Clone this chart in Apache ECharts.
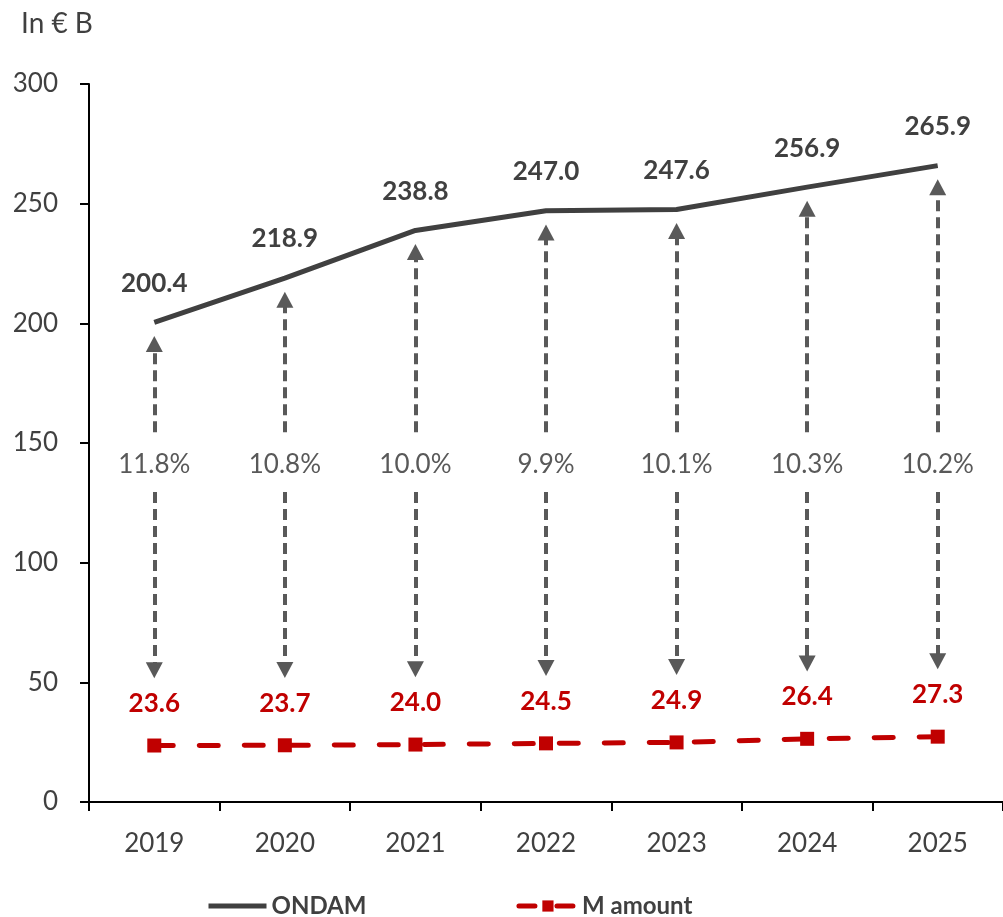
<!DOCTYPE html>
<html>
<head>
<meta charset="utf-8">
<script src="https://cdn.jsdelivr.net/npm/echarts@6/dist/echarts.min.js"></script>
<style>
  html, body { margin: 0; padding: 0; background: #fff; }
  #chart { width: 1003px; height: 917px; }
</style>
</head>
<body>
<div id="chart"></div>
<script>
// Yearly figures, in billions of euros
const years = ['2019', '2020', '2021', '2022', '2023', '2024', '2025'];
const ondam = [200.4, 218.9, 238.8, 247.0, 247.6, 256.9, 265.9];
const mAmount = [23.6, 23.7, 24.0, 24.5, 24.9, 26.4, 27.3];
// Share of M amount in ONDAM, as published (%)
const sharePct = [11.8, 10.8, 10.0, 9.9, 10.1, 10.3, 10.2];
const yTicks = [0, 50, 100, 150, 200, 250, 300];

const FONT = 'Lato, "Open Sans", sans-serif';
const DARK = '#404040';
const RED = '#C00000';
const ARROW = '#595959';

// Geometry of the double arrows (in axis units)
const pctLabelLevel = 141;    // where the percentage sits
const gapAbove = 13.5;        // gap left open above the label
const gapBelow = 11.5;        // gap left open below the label
const topClearance = 9;       // arrow head end below the ONDAM line
const bottomClearance = 31.5; // arrow head end above the M amount

const arrowSegments = [];
years.forEach((y, i) => {
  arrowSegments.push([
    { coord: [y, pctLabelLevel + gapAbove], symbol: 'none' },
    { coord: [y, ondam[i] - topClearance], symbol: 'triangle' }
  ]);
  arrowSegments.push([
    { coord: [y, pctLabelLevel - gapBelow], symbol: 'none' },
    { coord: [y, mAmount[i] + bottomClearance], symbol: 'triangle' }
  ]);
});

const chart = echarts.init(document.getElementById('chart'), null, { renderer: 'canvas' });

chart.setOption({
  animation: false,
  backgroundColor: '#fff',
  textStyle: { fontFamily: FONT },
  title: {
    text: 'In € B',
    left: 16,
    top: 5,
    textStyle: { fontFamily: FONT, fontSize: 28, fontWeight: 'normal', color: DARK }
  },
  grid: { left: 89, right: -8, top: 84, bottom: 115, containLabel: false },
  legend: {
    data: [
      { name: 'ONDAM', itemStyle: { opacity: 0, borderWidth: 0 } },
      { name: 'M amount', lineStyle: { type: [16, 22] } }
    ],
    left: 201,
    top: 889,
    itemWidth: 58,
    itemHeight: 14,
    itemGap: 150,
    lineStyle: { width: 5 },
    textStyle: { fontFamily: FONT, fontSize: 24, fontWeight: 'bold', color: DARK }
  },
  xAxis: {
    type: 'category',
    data: years,
    boundaryGap: true,
    axisLine: { lineStyle: { color: '#000', width: 2 } },
    axisTick: { show: true, length: 9, alignWithLabel: false, lineStyle: { color: '#000', width: 2 } },
    axisLabel: { margin: 29, fontFamily: FONT, fontSize: 26, color: DARK }
  },
  yAxis: {
    type: 'value',
    min: yTicks[0],
    max: yTicks[yTicks.length - 1],
    interval: 50,
    splitLine: { show: false },
    axisLine: { show: true, lineStyle: { color: '#000', width: 2 } },
    axisTick: { show: true, length: 9, lineStyle: { color: '#000', width: 2 } },
    axisLabel: { margin: 31, fontFamily: FONT, fontSize: 26, color: DARK }
  },
  series: [
    {
      name: 'ONDAM',
      type: 'line',
      data: ondam,
      symbol: 'none',
      lineStyle: { color: DARK, width: 5 },
      itemStyle: { color: DARK },
      markLine: {
        silent: true,
        animation: false,
        symbolSize: [17, 16],
        label: { show: false },
        emphasis: { disabled: true },
        lineStyle: { color: ARROW, width: 4, type: [11, 6] },
        data: arrowSegments
      },
      z: 3
    },
    {
      name: 'M amount',
      type: 'line',
      data: mAmount,
      symbol: 'rect',
      symbolSize: 14,
      lineStyle: { color: RED, width: 5, type: [19, 26], cap: 'round' },
      itemStyle: { color: RED },
      label: {
        show: true,
        position: 'top',
        distance: 22,
        fontFamily: FONT,
        fontSize: 26,
        fontWeight: 'bold',
        color: RED,
        formatter: p => p.value.toFixed(1)
      },
      z: 3
    },
    {
      // value labels above the ONDAM line
      name: 'ondamLabels',
      type: 'scatter',
      data: years.map((y, i) => [y, ondam[i]]),
      symbolSize: 0,
      silent: true,
      itemStyle: { opacity: 1, color: DARK },
      label: {
        show: true,
        position: 'top',
        distance: 26,
        fontFamily: FONT,
        fontSize: 26,
        fontWeight: 'bold',
        color: DARK,
        formatter: p => ondam[p.dataIndex].toFixed(1)
      },
      z: 4
    },
    {
      // share labels in the middle of each arrow
      name: 'share',
      type: 'scatter',
      data: years.map(y => [y, pctLabelLevel]),
      symbolSize: 0,
      silent: true,
      itemStyle: { opacity: 1, color: ARROW },
      label: {
        show: true,
        position: 'inside',
        fontFamily: FONT,
        fontSize: 26,
        color: ARROW,
        formatter: p => sharePct[p.dataIndex].toFixed(1) + '%'
      },
      z: 4
    }
  ]
});
</script>
</body>
</html>
